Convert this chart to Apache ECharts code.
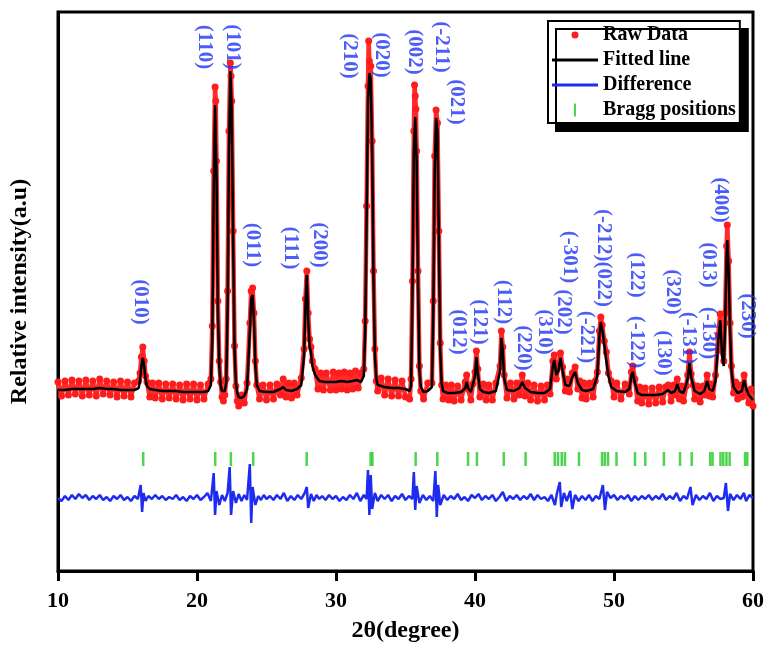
<!DOCTYPE html>
<html>
<head>
<meta charset="utf-8">
<script src="https://cdn.jsdelivr.net/npm/echarts@6/dist/echarts.min.js"></script>
<style>
html,body{margin:0;padding:0;background:#fff;}
#chart{width:774px;height:653px;}
</style>
</head>
<body>
<div id="chart"></div>
<script>
// ---- Data (intensity in arbitrary units) ----
const xTicks = [10, 20, 30, 40, 50, 60];

const rawData = [
[10.0,189],[10.25,175],[10.5,190],[10.75,176],[11.0,191],[11.25,177],[11.5,190],[11.75,175],[12.0,191],[12.25,176],
[12.5,190],[12.75,175],[13.0,192],[13.25,177],[13.5,190],[13.75,176],[14.0,189],[14.25,174],[14.5,190],[14.75,175],
[15.0,189],[15.25,174],[15.5,188],[15.8,190],[15.9,198],[16.0,214],[16.1,224],[16.2,210],[16.3,195],[16.4,189],
[16.6,174],[16.8,188],[17.0,173],[17.25,188],[17.5,172],[17.75,187],[18.0,173],[18.25,187],[18.5,172],[18.75,186],
[19.0,171],[19.25,187],[19.5,172],[19.75,187],[20.0,171],[20.25,186],[20.5,172],[20.8,187],[21.0,192],[21.1,245],
[21.2,400],[21.3,484],[21.35,470],[21.4,410],[21.5,270],[21.6,210],[21.7,189],[21.8,174],[21.9,170],[22.0,176],
[22.1,192],[22.2,280],[22.3,440],[22.4,508],[22.45,495],[22.5,470],[22.6,340],[22.7,225],[22.8,185],[22.9,170],
[23.0,165],[23.2,176],[23.4,168],[23.6,188],[23.8,248],[23.9,280],[24.0,283],[24.1,258],[24.2,210],[24.3,186],
[24.5,172],[24.75,186],[25.0,171],[25.25,186],[25.5,172],[25.75,187],[26.0,176],[26.2,192],[26.4,174],[26.6,188],
[26.8,173],[27.0,188],[27.2,176],[27.5,193],[27.7,222],[27.8,272],[27.9,300],[28.0,258],[28.1,232],[28.2,224],
[28.3,210],[28.5,202],[28.7,182],[28.9,198],[29.1,181],[29.3,198],[29.6,181],[29.8,199],[30.0,181],[30.2,198],
[30.4,182],[30.6,199],[30.8,181],[31.0,198],[31.2,182],[31.4,200],[31.6,183],[31.8,198],[32.0,202],[32.1,250],
[32.2,365],[32.3,485],[32.35,530],[32.4,510],[32.5,505],[32.6,430],[32.7,300],[32.8,222],[32.9,190],[33.0,180],
[33.25,193],[33.5,176],[33.75,192],[34.0,175],[34.25,191],[34.5,175],[34.75,190],[35.0,174],[35.3,172],[35.4,192],
[35.5,290],[35.6,440],[35.65,486],[35.7,475],[35.75,462],[35.8,420],[35.9,300],[36.0,205],[36.1,180],[36.3,172],
[36.6,188],[36.9,188],[37.0,270],[37.1,415],[37.2,461],[37.3,448],[37.4,340],[37.5,228],[37.6,186],[37.7,172],
[37.9,186],[38.1,171],[38.3,186],[38.5,170],[38.75,185],[39.0,171],[39.3,189],[39.4,196],[39.5,182],[39.7,171],
[39.85,187],[40.0,199],[40.1,220],[40.2,202],[40.35,174],[40.6,187],[40.8,171],[41.0,186],[41.25,171],[41.5,188],
[41.8,205],[41.9,240],[42.0,224],[42.1,196],[42.3,173],[42.55,188],[42.8,172],[43.0,188],[43.2,176],[43.4,196],
[43.6,175],[43.8,188],[44.0,171],[44.25,186],[44.5,170],[44.75,185],[45.0,171],[45.2,186],[45.4,177],[45.6,210],
[45.7,216],[45.85,192],[46.0,205],[46.15,218],[46.3,204],[46.5,180],[46.65,192],[46.8,179],[47.0,198],[47.2,204],
[47.4,182],[47.55,190],[47.7,173],[47.85,188],[48.0,172],[48.25,188],[48.5,174],[48.65,190],[48.8,199],[48.95,240],
[49.05,254],[49.15,246],[49.3,230],[49.45,219],[49.6,198],[49.8,190],[50.0,174],[50.2,188],[50.5,172],[50.8,187],
[51.1,177],[51.25,199],[51.35,205],[51.5,192],[51.7,170],[51.85,184],[52.0,168],[52.25,183],[52.5,167],[52.75,183],
[53.0,168],[53.25,184],[53.5,169],[53.7,184],[53.9,186],[54.1,170],[54.3,186],[54.4,176],[54.55,192],[54.7,172],
[54.85,185],[55.0,170],[55.2,185],[55.3,196],[55.43,219],[55.55,197],[55.7,186],[55.8,172],[56.0,185],[56.2,169],
[56.4,185],[56.5,176],[56.7,196],[56.85,175],[57.0,187],[57.1,174],[57.3,196],[57.5,236],[57.64,257],[57.78,220],
[57.9,210],[58.0,258],[58.1,325],[58.15,346],[58.25,310],[58.35,248],[58.45,205],[58.6,178],[58.75,189],[58.9,172],
[59.05,186],[59.2,174],[59.36,196],[59.5,178],[59.7,168],[59.85,182],[60.0,165]
];

const fittedLine = [
[10.0,181],[10.5,181],[11.0,182],[11.5,182],[12.0,182],[12.5,182],[13.0,183],[13.5,182],[14.0,182],[14.5,181],
[15.0,181],[15.5,181],[15.8,183],[15.9,190],[16.0,205],[16.1,213],[16.2,205],[16.3,192],[16.4,185],[16.6,182],
[17.0,181],[17.5,180],[18.0,180],[18.5,180],[19.0,179],[19.5,179],[20.0,179],[20.5,179],[20.8,180],[21.0,186],
[21.1,230],[21.2,380],[21.3,466],[21.4,400],[21.5,260],[21.6,205],[21.7,186],[21.8,180],[21.9,179],[22.0,180],
[22.1,188],[22.2,260],[22.3,420],[22.4,500],[22.5,460],[22.6,330],[22.7,220],[22.8,188],[22.9,178],[23.0,174],
[23.2,173],[23.4,175],[23.6,182],[23.8,240],[23.9,272],[24.0,276],[24.1,250],[24.2,205],[24.3,186],[24.5,180],
[25.0,179],[25.5,179],[26.0,182],[26.2,184],[26.4,181],[26.8,180],[27.2,182],[27.5,186],[27.7,215],[27.8,265],
[27.9,296],[28.0,250],[28.1,225],[28.2,218],[28.3,205],[28.5,196],[28.8,190],[29.2,189],[29.6,189],[30.0,189],
[30.4,190],[30.8,189],[31.2,190],[31.5,191],[31.8,189],[32.0,195],[32.1,240],[32.2,350],[32.3,470],[32.4,498],
[32.5,492],[32.6,420],[32.7,290],[32.8,215],[32.9,192],[33.0,186],[33.5,184],[34.0,183],[34.5,183],[35.0,182],
[35.3,180],[35.4,185],[35.5,280],[35.6,420],[35.7,454],[35.8,410],[35.9,290],[36.0,200],[36.1,184],[36.3,179],
[36.6,180],[36.9,184],[37.0,260],[37.1,400],[37.2,453],[37.3,440],[37.4,330],[37.5,220],[37.6,188],[37.7,180],
[38.0,178],[38.5,178],[39.0,179],[39.3,183],[39.4,189],[39.5,183],[39.7,179],[40.0,195],[40.1,214],[40.2,198],
[40.35,182],[40.6,179],[41.0,178],[41.5,180],[41.8,200],[41.9,233],[42.0,220],[42.1,192],[42.3,181],[42.8,180],
[43.2,183],[43.4,189],[43.6,183],[44.0,179],[44.5,178],[45.0,178],[45.4,182],[45.6,205],[45.7,211],[45.85,196],
[46.0,200],[46.15,213],[46.3,200],[46.5,186],[46.8,185],[47.0,194],[47.2,199],[47.4,188],[47.7,181],[48.0,180],
[48.5,182],[48.8,195],[48.95,235],[49.05,249],[49.2,238],[49.4,215],[49.6,195],[49.8,184],[50.2,180],[50.8,179],
[51.1,182],[51.25,195],[51.35,199],[51.5,188],[51.7,178],[52.0,176],[52.5,176],[53.0,176],[53.5,177],[53.9,181],
[54.1,178],[54.4,180],[54.55,187],[54.7,180],[55.0,178],[55.3,192],[55.43,208],[55.55,194],[55.8,180],[56.2,177],
[56.5,180],[56.7,190],[56.85,182],[57.1,180],[57.3,190],[57.5,230],[57.64,251],[57.78,215],[57.9,205],[58.0,250],
[58.1,315],[58.15,331],[58.25,300],[58.35,240],[58.45,200],[58.6,184],[58.9,178],[59.2,180],[59.36,191],[59.5,183],
[59.7,176],[60.0,171]
];

const differenceCurve = [
[10.0,73],[10.25,70],[10.5,75],[10.75,71],[11.0,76],[11.25,72],[11.5,77],[11.75,73],[12.0,76],[12.25,71],
[12.5,75],[12.75,72],[13.0,76],[13.25,71],[13.5,74],[13.75,70],[14.0,75],[14.25,72],[14.5,76],[14.75,71],
[15.0,74],[15.25,70],[15.5,75],[15.75,72],[15.95,86],[16.05,59],[16.15,78],[16.3,70],[16.5,75],[16.75,72],
[17.0,76],[17.25,72],[17.5,75],[17.75,71],[18.0,74],[18.25,72],[18.5,76],[18.75,71],[19.0,74],[19.25,70],
[19.5,75],[19.75,72],[20.0,76],[20.25,71],[20.5,74],[20.75,78],[21.0,70],[21.2,98],[21.3,56],[21.4,80],
[21.6,66],[21.8,76],[22.0,70],[22.2,78],[22.35,104],[22.45,56],[22.6,80],[22.8,68],[23.0,77],[23.2,70],
[23.4,76],[23.6,71],[23.8,107],[23.9,48],[24.0,84],[24.2,66],[24.4,75],[24.6,71],[24.8,76],[25.0,72],
[25.25,75],[25.5,71],[25.75,76],[26.0,72],[26.25,78],[26.5,70],[26.75,75],[27.0,71],[27.25,76],[27.5,72],
[27.75,78],[27.9,84],[28.0,63],[28.2,77],[28.4,70],[28.6,76],[28.8,72],[29.0,75],[29.25,71],[29.5,76],
[29.75,72],[30.0,75],[30.25,70],[30.5,74],[30.75,71],[31.0,76],[31.25,72],[31.5,78],[31.75,70],[32.0,76],
[32.2,72],[32.3,101],[32.4,56],[32.5,96],[32.6,62],[32.8,78],[33.0,70],[33.25,76],[33.5,72],[33.75,76],
[34.0,70],[34.25,75],[34.5,72],[34.75,77],[35.0,71],[35.25,75],[35.5,72],[35.6,99],[35.7,61],[35.8,85],
[36.0,68],[36.25,76],[36.5,71],[36.75,75],[37.0,70],[37.15,100],[37.25,54],[37.35,86],[37.5,66],[37.75,76],
[38.0,71],[38.25,75],[38.5,72],[38.75,77],[39.0,71],[39.25,74],[39.5,70],[39.75,76],[40.0,73],[40.25,77],
[40.5,71],[40.75,75],[41.0,72],[41.25,76],[41.5,70],[41.75,74],[42.0,79],[42.25,70],[42.5,75],[42.75,72],
[43.0,76],[43.25,71],[43.5,75],[43.75,72],[44.0,77],[44.25,71],[44.5,76],[44.75,72],[45.0,74],[45.25,70],
[45.5,76],[45.75,66],[45.9,78],[46.1,89],[46.2,64],[46.4,78],[46.6,70],[46.85,80],[47.0,62],[47.2,76],
[47.45,70],[47.7,75],[47.95,71],[48.2,76],[48.45,70],[48.7,75],[48.95,72],[49.2,86],[49.35,61],[49.5,79],
[49.75,73],[50.0,76],[50.25,71],[50.5,75],[50.75,72],[51.0,76],[51.25,70],[51.5,75],[51.75,71],[52.0,75],
[52.25,72],[52.5,76],[52.75,71],[53.0,75],[53.25,72],[53.5,77],[53.75,71],[54.0,75],[54.25,72],[54.5,78],
[54.75,70],[55.0,75],[55.25,72],[55.5,84],[55.65,66],[55.9,76],[56.15,71],[56.4,75],[56.65,72],[56.9,78],
[57.15,70],[57.4,75],[57.65,72],[57.9,73],[58.05,88],[58.2,60],[58.35,77],[58.6,71],[58.85,76],[59.1,72],
[59.35,78],[59.5,70],[59.75,76],[60.0,73]
];

const braggPositions = [16.13,21.31,22.44,24.04,27.89,32.49,32.62,35.73,37.29,39.5,40.14,42.07,43.64,
  45.74,45.97,46.24,46.47,47.48,49.14,49.34,49.57,50.18,51.51,52.25,53.59,54.75,55.59,56.92,57.09,
  57.66,57.86,58.09,58.32,59.43,59.59];
const braggLevel = 112;

const hklLabels = ['(010)','(110)','(101)','(011)','(111)','(200)','(210)','(020)','(002)','(-211)','(021)',
  '(012)','(121)','(112)','(220)','(310)','(202)','(-301)','(-221)','(-212)(022)','(122)','(-122)',
  '(320)','(130)','(-131)','(013)','(-130)','(400)','(230)'];
const hklX = [15.95,20.54,22.54,23.98,26.70,28.78,31.0,33.3,35.66,37.6,38.67,
  38.82,40.32,42.04,43.48,44.98,46.34,46.77,47.99,49.21,51.58,51.58,
  54.23,53.58,55.38,56.81,56.81,57.67,59.61];
const hklY = [269,524,524,326,323,326,515,516,519,524,469,
  239,249,269,223,239,259,314,234,313,296,229,
  279,218,233,306,238,371,255];

const legendNames = ['Raw Data','Fitted line','Difference','Bragg positions'];

// ---- Chart ----
const chart = echarts.init(document.getElementById('chart'), null, {renderer:'canvas'});
const serif = 'Liberation Serif, Times New Roman, serif';
const lineIcon = 'path://M0,0 L46,0 L46,3 L0,3 Z';

const option = {
  animation: false,
  backgroundColor: '#ffffff',
  grid: {left: 55, right: 21, top: 12, bottom: 82, show: true, borderColor: '#000', borderWidth: 3, backgroundColor: 'transparent'},
  legend: {
    data: [
      {name: legendNames[0], icon: 'path://M0,0 L0.01,0 L0.01,0.01 Z M6.5,3 A3.5,3.5 0 1 1 6.5,10 A3.5,3.5 0 1 1 6.5,3 Z M13,13 L13.01,13 L13.01,13.01 Z'},
      {name: legendNames[1], icon: lineIcon},
      {name: legendNames[2], icon: lineIcon},
      {name: legendNames[3], icon: 'path://M0,0 L2,0 L2,13 L0,13 Z'}
    ],
    orient: 'vertical',
    left: 548, top: 21,
    itemWidth: 46, itemHeight: 13, itemGap: 5,
    padding: [4, 4, 3, 4],
    backgroundColor: '#fff',
    borderColor: '#000', borderWidth: 2,
    shadowColor: '#000', shadowBlur: 0, shadowOffsetX: 8, shadowOffsetY: 8,
    textStyle: {fontFamily: serif, fontWeight: 'bold', fontSize: 20, color: '#000', lineHeight: 20},
    selectedMode: false
  },
  xAxis: {
    type: 'value', min: xTicks[0], max: xTicks[xTicks.length-1], interval: 10,
    name: '2θ(degree)', nameLocation: 'middle', nameGap: 48,
    nameTextStyle: {fontFamily: serif, fontWeight: 'bold', fontSize: 24, color: '#000'},
    axisLine: {show: true, lineStyle: {color: '#000', width: 3}},
    axisTick: {show: true, inside: false, length: 10, lineStyle: {color: '#000', width: 3}},
    axisLabel: {fontFamily: serif, fontWeight: 'bold', fontSize: 22, color: '#000', margin: 19,
      formatter: v => xTicks.includes(v) ? String(v) : ''},
    splitLine: {show: false}
  },
  yAxis: {
    type: 'value', min: 0, max: 559,
    name: 'Relative intensity(a.u)', nameLocation: 'middle', nameGap: 26,
    nameTextStyle: {fontFamily: serif, fontWeight: 'bold', fontSize: 24, color: '#000'},
    axisLine: {show: true, lineStyle: {color: '#000', width: 3}},
    axisTick: {show: false}, axisLabel: {show: false}, splitLine: {show: false}
  },
  series: [
    {
      name: legendNames[0], type: 'line', data: rawData, z: 2,
      symbol: 'circle', symbolSize: 7, showSymbol: true, showAllSymbol: true,
      itemStyle: {color: '#ff1c1c'},
      lineStyle: {color: '#ff2a2a', width: 4.5},
      emphasis: {disabled: true}
    },
    {
      name: legendNames[1], type: 'line', data: fittedLine, z: 4,
      symbol: 'none', itemStyle: {color: '#000'},
      lineStyle: {color: '#000', width: 2.5},
      emphasis: {disabled: true}
    },
    {
      name: legendNames[2], type: 'line', data: differenceCurve, z: 3,
      symbol: 'none', itemStyle: {color: '#1f2cf0'},
      lineStyle: {color: '#1f2cf0', width: 2.5},
      emphasis: {disabled: true}
    },
    {
      name: legendNames[3], type: 'scatter', z: 3,
      data: braggPositions.map(p => [p, braggLevel]),
      symbol: 'rect', symbolSize: [2.5, 14],
      itemStyle: {color: '#22c922'},
      emphasis: {disabled: true}
    },
    {
      name: 'hkl', type: 'scatter', z: 6, symbolSize: 0, silent: true,
      data: hklLabels.map((t, i) => ({name: t, value: [hklX[i], hklY[i]]})),
      label: {show: true, position: 'inside', formatter: '{b}', rotate: -90,
        fontFamily: serif, fontWeight: 'bold', fontSize: 21, color: '#1f35f5', align: 'center', verticalAlign: 'middle'},
      emphasis: {disabled: true}
    }
  ]
};
chart.setOption(option);
</script>
</body>
</html>
